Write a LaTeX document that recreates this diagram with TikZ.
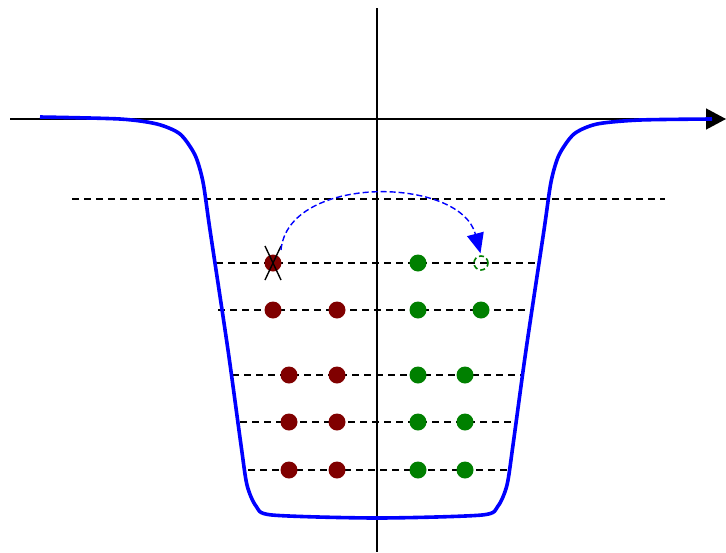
\documentclass[tikz,border=0pt]{standalone}
\usetikzlibrary{arrows.meta,positioning}

\tikzset{
  level/.style={dashed, dash pattern=on 7pt off 5pt, line width=1.4pt},
  hole/.style={circle, fill=red!50!black, inner sep=0pt, minimum size=17pt},
  elec/.style={circle, fill=green!50!black, inner sep=0pt, minimum size=17pt},
}

\begin{document}
\begin{tikzpicture}[x=1pt,y=-1pt]
\useasboundingbox (0,0) rectangle (726,552);

% Axes
\coordinate (xl) at (10,119);
\coordinate (xr) at (726,119);
\coordinate (yt) at (377,8);
\coordinate (yb) at (377,552);
\draw[line width=1.4pt] (yt) -- (yb);
\draw[line width=1.4pt,-{Triangle[length=20pt,width=21pt]}] (xl) -- (xr);

% Fermi level (dashed)
\coordinate (fl) at (72,199);
\coordinate (fr) at (665,199);
\draw[level] (fl) -- (fr);

% Bound levels
\draw[level] (216,263) -- (535,263);
\draw[level] (218,310) -- (533,310);
\draw[level] (232,375) -- (523,375);
\draw[level] (240,422) -- (515,422);
\draw[level] (248,470) -- (508,470);

% Potential well
\draw[blue, line width=3.6pt, line join=round] plot[smooth, tension=0.45] coordinates {
  (40,117) (120,119) (157,124) (180,134) (195,155) (203,182) (210,230) (228,350)
  (241,445) (247,485) (256,506) (272,515) (377,518) (482,515) (498,506) (507,485)
  (513,445) (526,350) (544,230) (551,182) (559,155) (574,134) (597,124) (640,120) (712,119)};

%Holes (left)
\node[hole] (h1) at (273,263) {};
\node[hole] (h2) at (273,310) {};
\node[hole] (h3) at (337,310) {};
\node[hole] (h4) at (289,375) {};
\node[hole] (h5) at (337,375) {};
\node[hole] (h6) at (289,422) {};
\node[hole] (h7) at (337,422) {};
\node[hole] (h8) at (289,470) {};
\node[hole] (h9) at (337,470) {};

%Cross on the removed one
\draw[line width=1.4pt] ([shift={(-8,-17)}]h1.center) -- ([shift={(8,17)}]h1.center);
\draw[line width=1.4pt] ([shift={(8,-17)}]h1.center) -- ([shift={(-8,17)}]h1.center);

%Electrons (right)
\node[elec] (e1) at (418,263) {};
\node[circle, draw=green!50!black, dashed, dash pattern=on 5pt off 3pt, line width=1.6pt,
      inner sep=0pt, minimum size=14pt] (e0) at (481,263) {};
\node[elec] (e2) at (418,310) {};
\node[elec] (e3) at (481,310) {};
\node[elec] (e4) at (418,375) {};
\node[elec] (e5) at (465,375) {};
\node[elec] (e6) at (418,422) {};
\node[elec] (e7) at (465,422) {};
\node[elec] (e8) at (418,470) {};
\node[elec] (e9) at (465,470) {};

%Jump
\draw[blue, dashed, dash pattern=on 6pt off 3pt, line width=1.4pt,
      -{Triangle[length=20pt,width=17pt]}, shorten >=2pt]
  ([shift={(8,-13)}]h1.center) .. controls (288,174) and (460,176) .. (e0.north);

\end{tikzpicture}
\end{document}
